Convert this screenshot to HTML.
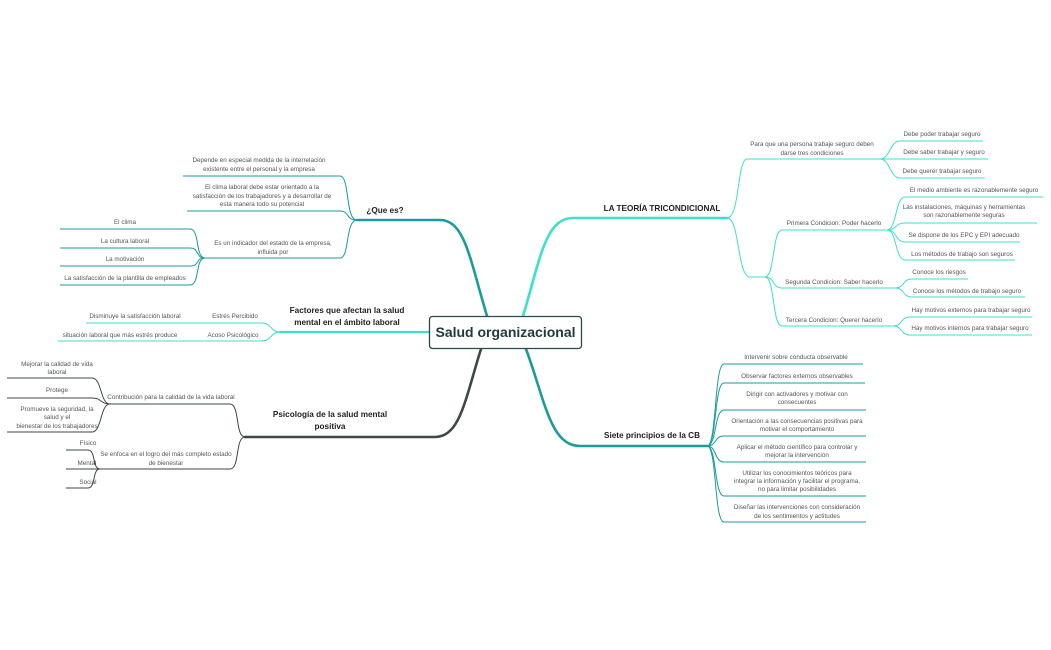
<!DOCTYPE html>
<html><head><meta charset="utf-8"><style>
html,body{margin:0;padding:0;background:#fff;}
svg{display:block;font-family:"Liberation Sans",sans-serif;}
.s{font-size:6.3px;fill:#555;text-anchor:middle;}
.b{font-size:8.2px;font-weight:bold;fill:#222;text-anchor:middle;}
</style></head><body>
<svg width="1051" height="650" viewBox="0 0 1051 650" xmlns="http://www.w3.org/2000/svg">
<g fill="none" stroke-linecap="round">
<path d="M487 316 C470 260 465 220 440 220 L357 220" stroke="#1a9c9c" stroke-width="2.6"/>
<path d="M429 332 L280 332" stroke="#3de0c8" stroke-width="2.2"/>
<path d="M481 349 C465 400 460 437 435 437 L245 437" stroke="#3b4a47" stroke-width="2.6"/>
<path d="M523 316 C540 260 545 218 573 218 L727 218" stroke="#3de0c8" stroke-width="2.6"/>
<path d="M526 349 C545 400 550 446 580 446 L707 446" stroke="#1a9c9c" stroke-width="2.6"/>
</g>
<g fill="none" stroke="#1a9c9c" stroke-width="1">
<path d="M357 220 C345 220 350 176 340 176 L183 176"/>
<path d="M357 220 C345 220 350 211 340 211 L187 211"/>
<path d="M357 220 C345 220 350 258 340 258 L205 258"/>
<path d="M205 258 C195 258 200 229 190 229 L60 229"/>
<path d="M205 258 C195 258 200 248 190 248 L60 248"/>
<path d="M205 258 C195 258 200 266 190 266 L60 266"/>
<path d="M205 258 C195 258 200 285 190 285 L60 285"/>
<path d="M707 446 C717 446 714 364 724 364 L863 364"/>
<path d="M707 446 C717 446 714 383 724 383 L865 383"/>
<path d="M707 446 C717 446 714 410 724 410 L866 410"/>
<path d="M707 446 C717 446 714 436 724 436 L866 436"/>
<path d="M707 446 C717 446 714 462 724 462 L866 462"/>
<path d="M707 446 C717 446 714 496 724 496 L866 496"/>
<path d="M707 446 C717 446 714 522 724 522 L866 522"/>
</g>
<g fill="none" stroke="#3de0c8" stroke-width="1">
<path d="M280 332 C270 332 272 323 262 323 L86 323"/>
<path d="M280 332 C270 332 272 341 262 341 L58 341"/>
<path d="M727 218 C740 218 737 159 747 159 L880 159"/>
<path d="M880 159 C890 159 890 141 900 141 L983 141"/>
<path d="M880 159 L988 159"/>
<path d="M880 159 C890 159 890 178 900 178 L985 178"/>
<path d="M727 218 C740 218 737 277 750 277 L765 277"/>
<path d="M765 277 C775 277 772 230 782 230 L887 230"/>
<path d="M765 277 C775 277 772 288 782 288 L895 288"/>
<path d="M765 277 C775 277 772 326 782 326 L893 326"/>
<path d="M887 230 C897 230 895 197 905 197 L1043 197"/>
<path d="M887 230 C897 230 895 223 905 223 L1037 223"/>
<path d="M887 230 C897 230 895 242 905 242 L1020 242"/>
<path d="M887 230 C897 230 895 260 905 260 L1015 260"/>
<path d="M895 288 C905 288 902 279 912 279 L968 279"/>
<path d="M895 288 C905 288 902 297 912 297 L1025 297"/>
<path d="M893 326 C903 326 900 317 910 317 L1032 317"/>
<path d="M893 326 C903 326 900 335 910 335 L1032 335"/>
</g>
<g fill="none" stroke="#3b4a47" stroke-width="1">
<path d="M245 437 C235 437 240 404 230 404 L110 404"/>
<path d="M245 437 C235 437 240 469 230 469 L100 469"/>
<path d="M110 404 C100 404 102 378 92 378 L7 378"/>
<path d="M110 404 C100 404 102 398 92 398 L7 398"/>
<path d="M110 404 C100 404 102 432 92 432 L7 432"/>
<path d="M100 469 C92 469 96 450 88 450 L66 450"/>
<path d="M100 469 L66 469"/>
<path d="M100 469 C92 469 96 488 88 488 L66 488"/>
</g>
<rect x="429.5" y="316.5" width="152" height="32" rx="3" fill="#fff" stroke="#2e4a48" stroke-width="1.3"/>
<text x="505.5" y="337" style="font-size:14px;font-weight:bold;fill:#1f3a3a;text-anchor:middle">Salud organizacional</text>
<text class="b" x="385" y="213">¿Que es?</text>
<text class="s" x="259" y="162">Depende en especial medida de la interrelación</text>
<text class="s" x="259" y="171">existente entre el personal y la empresa</text>
<text class="s" x="262" y="189">El clima laboral debe estar orientado a la</text>
<text class="s" x="262" y="198">satisfacción de los trabajadores y a desarrollar de</text>
<text class="s" x="262" y="206">esta manera todo su potencial</text>
<text class="s" x="273" y="245">Es un indicador del estado de la empresa,</text>
<text class="s" x="273" y="254">influida por</text>
<text class="s" x="125" y="224">El clima</text>
<text class="s" x="125" y="243">La cultura laboral</text>
<text class="s" x="125" y="261">La motivación</text>
<text class="s" x="125" y="280">La satisfacción de la plantilla de empleados</text>
<text class="b" x="347" y="313">Factores que afectan la salud</text>
<text class="b" x="347" y="325">mental en el ámbito laboral</text>
<text class="s" x="235" y="318">Estrés Percibido</text>
<text class="s" x="135" y="318">Disminuye la satisfacción laboral</text>
<text class="s" x="233" y="337">Acoso Psicológico</text>
<text class="s" x="120" y="337">situación laboral que más estrés produce</text>
<text class="b" x="330" y="417">Psicología de la salud mental</text>
<text class="b" x="330" y="429">positiva</text>
<text class="s" x="171" y="399">Contribución para la calidad de la vida laboral</text>
<text class="s" x="166" y="456">Se enfoca en el logro del más completo estado</text>
<text class="s" x="166" y="465">de bienestar</text>
<text class="s" x="57" y="366">Mejorar la calidad de vida</text>
<text class="s" x="57" y="374">laboral</text>
<text class="s" x="57" y="392">Protege</text>
<text class="s" x="57" y="411">Promueve la seguridad, la</text>
<text class="s" x="57" y="419">salud y el</text>
<text class="s" x="57" y="428">bienestar de los trabajadores</text>
<text class="s" x="88" y="445">Físico</text>
<text class="s" x="87" y="465">Mental</text>
<text class="s" x="88" y="484">Social</text>
<text class="b" x="662" y="211">LA TEORÍA TRICONDICIONAL</text>
<text class="s" x="812" y="146">Para que una persona trabaje seguro deben</text>
<text class="s" x="812" y="155">darse tres condiciones</text>
<text class="s" x="942" y="136">Debe poder trabajar seguro</text>
<text class="s" x="944" y="154">Debe saber trabajar y seguro</text>
<text class="s" x="942" y="173">Debe querer trabajar seguro</text>
<text class="s" x="834" y="225">Primera Condicion: Poder hacerlo</text>
<text class="s" x="834" y="284">Segunda Condicion: Saber hacerlo</text>
<text class="s" x="834" y="322">Tercera Condicion: Querer hacerlo</text>
<text class="s" x="974" y="192">El medio ambiente es razonablemente seguro</text>
<text class="s" x="964" y="209">Las instalaciones, máquinas y herramientas</text>
<text class="s" x="964" y="217">son razonablemente seguras</text>
<text class="s" x="964" y="237">Se dispone de los EPC y EPI adecuado</text>
<text class="s" x="962" y="256">Los métodos de trabajo son seguros</text>
<text class="s" x="939" y="274">Conoce los riesgos</text>
<text class="s" x="967" y="293">Conoce los métodos de trabajo seguro</text>
<text class="s" x="971" y="312">Hay motivos externos para trabajar seguro</text>
<text class="s" x="970" y="330">Hay motivos internos para trabajar seguro</text>
<text class="b" x="652" y="438">Siete principios de la CB</text>
<text class="s" x="796" y="359">Intervenir sobre conducta observable</text>
<text class="s" x="797" y="378">Observar factores externos observables</text>
<text class="s" x="797" y="396">Dirigir con activadores y motivar con</text>
<text class="s" x="797" y="404">consecuentes</text>
<text class="s" x="797" y="423">Orientación a las consecuencias positivas para</text>
<text class="s" x="797" y="431">motivar el comportamiento</text>
<text class="s" x="797" y="449">Aplicar el método científico para controlar y</text>
<text class="s" x="797" y="457">mejorar la intervención</text>
<text class="s" x="797" y="475">Utilizar los conocimientos teóricos para</text>
<text class="s" x="797" y="483">integrar la información y facilitar el programa,</text>
<text class="s" x="797" y="491">no para limitar posibilidades</text>
<text class="s" x="797" y="509">Diseñar las intervenciones con consideración</text>
<text class="s" x="797" y="518">de los sentimientos y actitudes</text>
</svg>
</body></html>
